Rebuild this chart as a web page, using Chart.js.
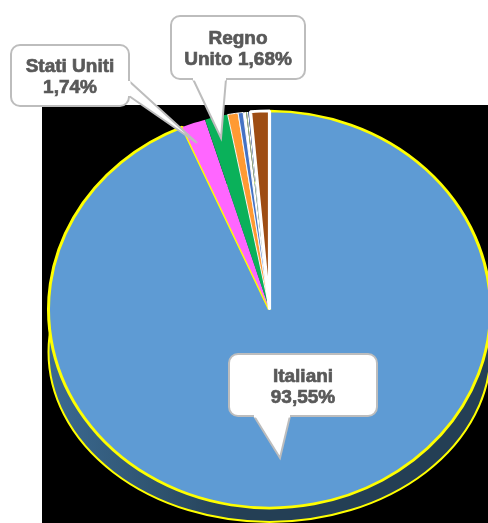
<!DOCTYPE html>
<html>
<head>
<meta charset="utf-8">
<style>
  html, body { margin: 0; padding: 0; background: #fff; overflow: hidden; }
  #wrap { width: 488px; height: 523px; }
</style>
<script src="https://cdn.jsdelivr.net/npm/chart.js@4/dist/chart.umd.min.js"></script>
</head>
<body>
<div id="wrap"><canvas id="chart" width="488" height="523"></canvas></div>
<script>
const categories = ['Italiani', 'Stati Uniti', 'Regno Unito', 'Altri 1', 'Altri 2', 'Altri 3', 'Altri 4', 'Altri 5', 'Altri 6', 'Altri 7', 'Altri 8'];
const shares = [93.55, 1.74, 1.68, 0.76, 0.36, 0.22, 0.06, 0.10, 0.07, 0.09, 1.37];
const sliceColors = ['#5e9bd4', '#ff66ff', '#0ab15a', '#ff9a33', '#4472c4', '#ffffff', '#a9d18e', '#ffffff', '#4472c4', '#ffffff', '#9e4d14'];
const edgeColors = ['#ffff00', '#ff66ff', '#0ab15a', '#ffffff', '#ffffff', '#ffffff', '#a9d18e', '#ffffff', '#4472c4', '#ffffff', '#ffffff'];
const edgeWidths = [3, 0, 0, 1, 1, 0, 0, 0, 0, 0, 3.2];

// the pie is squashed to an ellipse, this is height / width of it
const squash = 198.5 / 221;
// the lower edge of the side wall is a flatter ellipse than the top
const wallOffset = 42.5;
const wallRadiusY = 170;

// callouts: box, tail (base a, tip, base b) and where the line breaks
const callouts = [
    { index: 0, x: 229, y: 354, w: 148, h: 62, cx: 303, tail: [254, 416, 280, 458, 290, 416], firstBase: 382, breakAfter: 1 },
    { index: 1, x: 11, y: 45, w: 118, h: 61, cx: 70, tail: [129, 81, 197, 143, 129, 96], firstBase: 72, breakAfter: 2 },
    { index: 2, x: 171, y: 16, w: 134, h: 63, cx: 238, tail: [193, 79, 221, 138, 226, 79], firstBase: 44, breakAfter: 1 }
];

const pieShape = {
    id: 'pieShape',
    beforeDatasetsDraw(chart) {
        const ctx = chart.ctx;
        const arc = chart.getDatasetMeta(0).data[0];

        ctx.fillStyle = '#000';
        ctx.fillRect(42, 105, 446, 418);

        // side wall of the 3d pie
        const side = ctx.createLinearGradient(arc.x - arc.outerRadius, 0, arc.x, 0);
        side.addColorStop(0, '#3b6a92');
        side.addColorStop(0.5, '#2f536f');
        side.addColorStop(0.85, '#243f55');
        ctx.beginPath();
        ctx.ellipse(arc.x, arc.y + wallOffset, arc.outerRadius, wallRadiusY, 0, 0, Math.PI * 2);
        ctx.fillStyle = side;
        ctx.fill();
        ctx.lineWidth = 2;
        ctx.strokeStyle = '#ffff00';
        ctx.stroke();

        ctx.save();
        ctx.translate(arc.x, arc.y);
        ctx.scale(1, squash);
        ctx.translate(-arc.x, -arc.y);
    },
    afterDatasetsDraw(chart) {
        const ctx = chart.ctx;
        ctx.restore();

        callouts.forEach((c) => {
            ctx.beginPath();
            ctx.roundRect(c.x, c.y, c.w, c.h, 9);
            ctx.fillStyle = '#fff';
            ctx.strokeStyle = '#bdbdbd';
            ctx.lineWidth = 2;
            ctx.fill();
            ctx.stroke();

            ctx.beginPath();
            ctx.moveTo(c.tail[0], c.tail[1]);
            ctx.lineTo(c.tail[2], c.tail[3]);
            ctx.lineTo(c.tail[4], c.tail[5]);
            ctx.fill();
            ctx.stroke();
            // hide the box edge under the tail
            ctx.beginPath();
            ctx.moveTo(c.tail[0], c.tail[1]);
            ctx.lineTo(c.tail[4], c.tail[5]);
            ctx.lineWidth = 3;
            ctx.strokeStyle = '#fff';
            ctx.stroke();

            const words = categories[c.index].split(' ');
            const pct = shares[c.index].toFixed(2).replace('.', ',') + '%';
            const lines = [words.slice(0, c.breakAfter).join(' '), words.slice(c.breakAfter).concat(pct).join(' ')];
            ctx.font = 'bold 19px "Liberation Sans", Arial, sans-serif';
            ctx.fillStyle = '#595959';
            ctx.strokeStyle = '#595959';
            ctx.lineWidth = 0.7;
            ctx.textAlign = 'center';
            ctx.textBaseline = 'alphabetic';
            lines.forEach((line, i) => {
                ctx.fillText(line, c.cx, c.firstBase + i * 21);
                ctx.strokeText(line, c.cx, c.firstBase + i * 21);
            });
        });
    }
};

new Chart(document.getElementById('chart').getContext('2d'), {
    type: 'pie',
    data: {
        labels: categories,
        datasets: [{
            data: shares,
            backgroundColor: sliceColors,
            borderColor: edgeColors,
            borderWidth: edgeWidths,
            clip: false
        }]
    },
    options: {
        responsive: false,
        animation: false,
        events: [],
        radius: 221,
        layout: { padding: { left: 51, top: 96, right: 0, bottom: 0 } },
        plugins: {
            legend: { display: false },
            tooltip: { enabled: false }
        }
    },
    plugins: [pieShape]
});
</script>
</body>
</html>
